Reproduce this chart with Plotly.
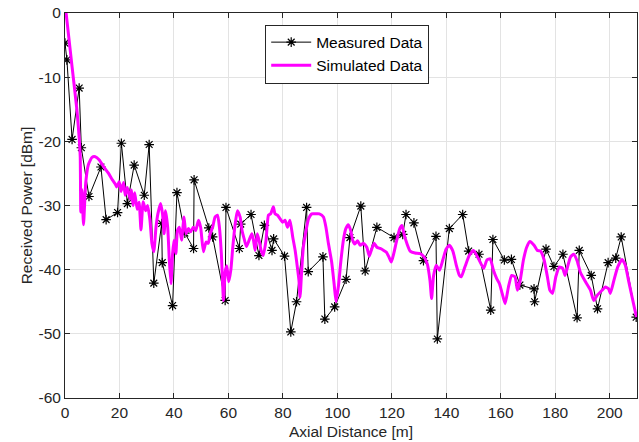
import plotly.graph_objects as go

# Measured data (distance m, power dBm)
meas_x = [0.0, 0.7, 2.6, 5.2, 6.0, 8.8, 13.2, 15.1, 19.3, 20.7, 22.9, 25.4, 29.1, 30.9,
          32.6, 35.5, 35.7, 39.5, 41.1, 44.0, 47.2, 47.4, 52.8, 54.2, 58.8, 59.1, 64.0,
          64.5, 68.3, 71.2, 73.2, 76.0, 76.6, 80.6, 82.9, 85.0, 88.7, 89.3, 94.7, 95.4,
          99.0, 103.2, 104.6, 108.6, 110.2, 114.5, 120.8, 124.0, 125.2, 128.1, 131.6,
          136.2, 136.7, 141.1, 146.0, 148.2, 152.0, 156.3, 157.1, 161.3, 163.9, 167.0,
          172.2, 172.4, 176.6, 179.5, 182.8, 188.0, 188.8, 193.2, 195.5, 199.4, 202.2,
          204.2, 209.7]
meas_y = [-4.7, -7.3, -19.7, -11.7, -21.0, -28.6, -24.0, -32.2, -31.1, -20.3, -29.7, -23.7,
          -28.4, -20.5, -42.1, -32.8, -38.9, -45.6, -28.0, -34.3, -36.7, -26.0, -33.5, -34.9,
          -44.8, -30.3, -36.7, -32.9, -31.4, -37.8, -33.1, -37.0, -35.2, -37.9, -49.7, -45.0,
          -30.3, -40.3, -38.0, -47.7, -45.8, -41.5, -35.0, -30.1, -40.2, -33.4, -35.0, -34.5,
          -31.4, -32.7, -38.6, -34.8, -50.8, -33.6, -31.4, -37.1, -37.6, -46.3, -35.3, -38.5,
          -38.4, -42.4, -43.0, -45.0, -36.8, -39.5, -37.6, -47.5, -37.0, -40.9, -46.1, -38.9,
          -38.2, -34.9, -47.4]

# Simulated data (distance m, power dBm)
sim_x = [0.4, 2.6, 4.4, 5.3, 5.6, 5.8, 6.2, 6.8, 7.6, 8.6, 9.9, 11.1, 12.6, 14.1, 16.0, 17.4,
         18.4, 19.0, 19.9, 20.6, 21.5, 22.1, 22.9, 23.9, 24.4, 25.0, 25.6, 26.5, 27.2, 27.9,
         28.7, 29.6, 30.3, 31.2, 31.9, 32.6, 33.4, 34.1, 35.1, 35.8, 36.4, 36.9, 37.7, 38.3,
         38.9, 39.5, 40.0, 40.7, 41.3, 42.0, 42.8, 43.7, 44.4, 45.3, 46.1, 47.1, 48.0, 49.0,
         49.8, 50.8, 51.8, 52.6, 53.3, 54.2, 55.1, 56.0, 56.7, 57.4, 58.2, 58.8, 59.4, 60.1,
         60.9, 61.6, 62.5, 63.3, 64.3, 65.0, 65.9, 66.6, 67.6, 68.6, 69.2, 69.8, 70.6, 71.4,
         72.0, 72.8, 73.8, 74.7, 75.5, 76.5, 77.1, 78.0, 79.0, 79.9, 80.8, 81.7, 82.6, 83.6,
         84.5, 85.3, 85.9, 86.3, 86.9, 87.5, 88.5, 89.4, 90.6, 91.8, 93.4, 94.9, 95.8, 96.7,
         97.9, 98.8, 99.5, 100.4, 101.2, 102.2, 103.1, 104.0, 104.9, 105.6, 106.4, 107.4,
         108.4, 109.6, 110.8, 111.7, 112.6, 113.5, 114.5, 115.7, 117.0, 118.0, 118.9, 119.8,
         120.7, 121.8, 122.9, 123.7, 124.5, 125.5, 126.7, 128.5, 130.4, 131.8, 133.0, 134.0,
         134.6, 135.3, 136.3, 137.5, 138.7, 139.9, 141.1, 142.4, 143.6, 144.8, 145.5, 146.8,
         148.4, 150.0, 151.8, 153.7, 154.9, 156.1, 157.3, 158.5, 159.5, 160.5, 161.6, 162.8,
         164.0, 165.2, 166.1, 167.1, 168.3, 169.5, 170.7, 172.2, 173.4, 174.6, 175.9, 177.1,
         178.0, 179.0, 180.2, 181.5, 182.7, 183.6, 184.5, 185.6, 186.8, 188.0, 189.2, 191.1,
         192.9, 194.1, 195.4, 197.2, 198.4, 199.6, 200.2, 201.5, 202.9, 204.5, 205.7, 206.9,
         208.2, 209.8]
sim_y = [0.0, -8.4, -15.2, -20.0, -22.5, -31.0, -27.5, -33.0, -26.5, -23.6, -22.5, -22.4,
         -22.9, -23.9, -25.0, -26.0, -26.6, -27.1, -26.3, -27.8, -26.4, -28.4, -27.2, -29.0,
         -27.6, -30.0, -28.0, -30.6, -29.5, -33.8, -29.4, -30.8, -30.0, -32.3, -35.9, -37.2,
         -33.4, -31.3, -29.7, -31.3, -34.4, -30.8, -33.4, -38.5, -42.2, -37.5, -35.4, -37.5,
         -33.9, -33.4, -35.4, -31.8, -34.4, -33.6, -34.1, -33.4, -33.9, -32.3, -33.4, -37.2,
         -35.7, -35.9, -34.4, -33.4, -31.8, -31.5, -33.4, -37.5, -44.8, -40.4, -39.4, -41.9,
         -40.0, -36.5, -32.8, -30.8, -31.8, -33.9, -35.4, -36.4, -35.4, -34.4, -35.4, -37.0,
         -34.4, -35.7, -37.0, -37.8, -35.4, -31.5, -31.3, -30.2, -31.3, -31.5, -32.1, -32.6,
         -32.3, -33.4, -32.3, -34.9, -37.0, -39.6, -41.7, -44.3, -40.1, -36.5, -33.9, -32.1,
         -31.3, -31.3, -31.3, -31.8, -33.4, -35.9, -38.8, -42.2, -45.0, -42.5, -39.0, -35.4,
         -33.6, -33.0, -33.9, -35.4, -36.0, -35.5, -36.2, -35.9, -36.5, -37.9, -36.8, -35.9,
         -36.5, -36.7, -37.0, -37.3, -38.0, -38.8, -37.5, -35.4, -33.6, -33.1, -34.5, -35.9,
         -37.1, -37.4, -37.5, -38.0, -39.1, -41.7, -44.5, -41.0, -39.3, -40.1, -38.5, -36.8,
         -36.2, -37.1, -39.2, -40.9, -41.1, -39.6, -37.8, -37.0, -38.3, -39.8, -38.5, -38.3,
         -40.1, -41.4, -42.2, -43.7, -45.3, -42.7, -40.9, -41.1, -43.2, -41.7, -38.5, -36.5,
         -35.6, -36.2, -37.0, -37.1, -38.5, -41.1, -43.2, -43.7, -41.1, -39.6, -39.8, -40.9,
         -39.6, -38.0, -37.6, -38.6, -40.4, -41.9, -43.2, -44.8, -44.0, -43.2, -42.7, -43.0,
         -43.7, -41.7, -39.6, -38.4, -39.3, -41.7, -44.3, -47.4]

x_ticks = [0, 20, 40, 60, 80, 100, 120, 140, 160, 180, 200]
y_ticks = [-60, -50, -40, -30, -20, -10, 0]
y_tick_text = ["-60", "-50", "-40", "-30", "-20", "-10", "0"]

FONT = "Liberation Sans, Arial, Helvetica, sans-serif"
AX = "#262626"
GRID = "#E3E3E3"
FS = 15.5

fig = go.Figure()
fig.add_trace(go.Scatter(
    x=meas_x, y=meas_y, mode="lines+markers", name="Measured Data",
    line=dict(color="black", width=1),
    marker=dict(symbol="asterisk-open", size=8, color="black",
                line=dict(color="black", width=1.2)),
))
fig.add_trace(go.Scatter(
    x=sim_x, y=sim_y, mode="lines", name="Simulated Data",
    line=dict(color="#FF00FF", width=3, shape="spline", smoothing=0.5),
))

axis_common = dict(
    showline=True, linecolor=AX, linewidth=1, mirror="ticks",
    ticks="inside", ticklen=5, tickwidth=1, tickcolor=AX,
    showgrid=True, gridcolor=GRID, gridwidth=1, zeroline=False,
    automargin=False,
    tickfont=dict(family=FONT, size=FS, color=AX),
)

fig.update_layout(
    width=639, height=442,
    margin=dict(l=65, r=2, t=13, b=44),
    paper_bgcolor="white", plot_bgcolor="white",
    font=dict(family=FONT, size=FS, color=AX),
    showlegend=True,
    legend=dict(
        x=0.35, y=0.97, xanchor="left", yanchor="top",
        bgcolor="white", bordercolor=AX, borderwidth=1,
        font=dict(family=FONT, size=FS, color="black"),
        tracegroupgap=0, itemwidth=40,
    ),
    xaxis=dict(range=[0, 210], tickvals=x_ticks,
               title=dict(text="Axial Distance [m]", standoff=6,
                          font=dict(family=FONT, size=FS, color=AX)),
               **axis_common),
    yaxis=dict(range=[-60, 0], tickvals=y_ticks, ticktext=y_tick_text,
               title=dict(text="Received Power [dBm]", standoff=2,
                          font=dict(family=FONT, size=FS, color=AX)),
               **axis_common),
)

fig.write_html(
    "out.html",
    config={"displayModeBar": False},
    post_script="document.body.style.margin='0';document.body.style.overflow='hidden';",
)
